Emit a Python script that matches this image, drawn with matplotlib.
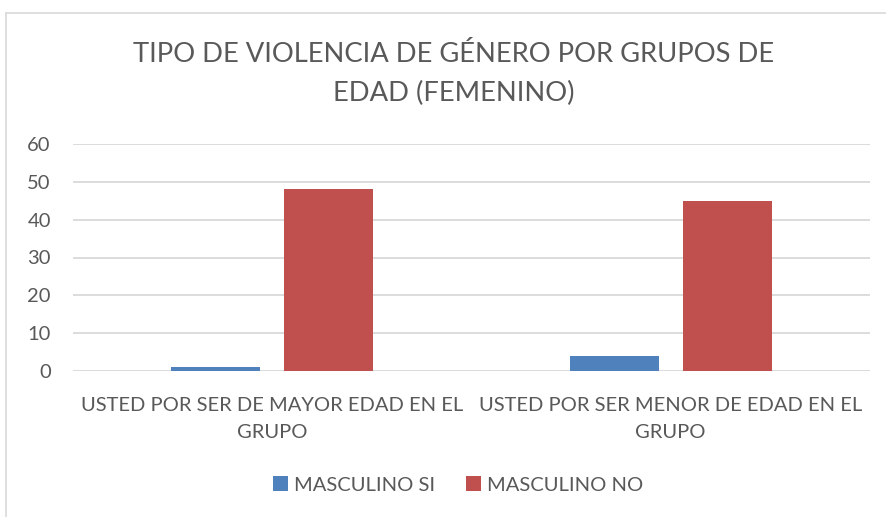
import matplotlib
matplotlib.use("Agg")
import matplotlib.pyplot as plt
from matplotlib.lines import Line2D
from matplotlib.patches import Patch
import numpy as np

categories = ["USTED POR SER DE MAYOR EDAD EN EL\nGRUPO",
              "USTED POR SER MENOR DE EDAD EN EL\nGRUPO"]
series_names = ["MASCULINO SI", "MASCULINO NO"]
masculino_si = [1, 4]
masculino_no = [48, 45]
y_ticks = [0, 10, 20, 30, 40, 50, 60]
title = "TIPO DE VIOLENCIA DE GÉNERO POR GRUPOS DE\nEDAD (FEMENINO)"

BLUE = "#4F81BD"
RED = "#C0504D"
TEXT = "#595959"
GRID = "#D9D9D9"

plt.rcParams["font.family"] = ["Lato", "DejaVu Sans"]

fig = plt.figure(figsize=(8.86, 5.17), dpi=100)
ax = fig.add_axes([73 / 886, 1 - 371 / 517, (870 - 73) / 886, (371 - 144) / 517])

x = np.arange(len(categories))
width = 0.223
offset = 0.142
ax.bar(x - offset, masculino_si, width, color=BLUE, zorder=3)
ax.bar(x + offset, masculino_no, width, color=RED, zorder=3)

ax.set_xlim(-0.5, len(categories) - 0.5)
ax.set_ylim(0, 60)
ax.set_yticks(y_ticks)
ax.set_xticks(x)
ax.set_xticklabels(categories, fontsize=14.5, color=TEXT, linespacing=1.7)
ax.tick_params(axis="x", length=0, pad=19)
ax.tick_params(axis="y", length=0, pad=16, labelsize=14.5, labelcolor=TEXT)
ax.grid(axis="y", color=GRID, linewidth=1.3, zorder=0)
for s in ax.spines.values():
    s.set_visible(False)

fig.text(454 / 886, 1 - 74 / 517, title, ha="center", va="center", fontsize=19.7,
         color=TEXT, linespacing=1.7)

handles = [Patch(facecolor=BLUE), Patch(facecolor=RED)]
fig.legend(handles, series_names, loc="center", bbox_to_anchor=(458 / 886, 1 - 485 / 517),
           ncol=2, frameon=False, fontsize=14.5, labelcolor=TEXT,
           handlelength=0.75, handleheight=0.75, handletextpad=0.3, columnspacing=1.55)

# outer chart frame (left and top edges)
fig.add_artist(Line2D([6 / 886, 6 / 886], [0, 1 - 13 / 517], transform=fig.transFigure,
                      color="#D9D9D9", linewidth=1.2))
fig.add_artist(Line2D([6 / 886, 1], [1 - 13 / 517, 1 - 13 / 517], transform=fig.transFigure,
                      color="#D9D9D9", linewidth=1.2))

fig.savefig("out.png", dpi=100, facecolor="white")
